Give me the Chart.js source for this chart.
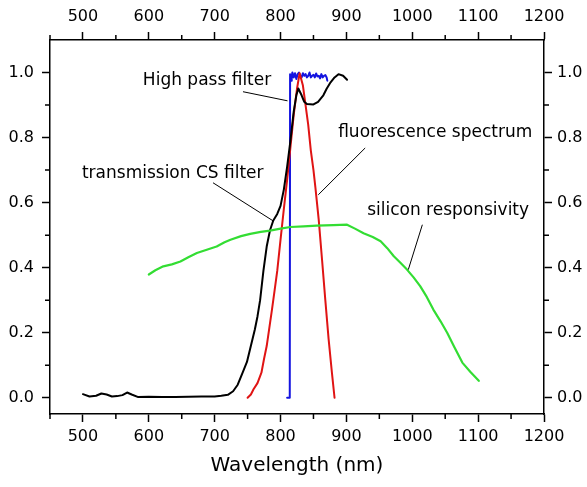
<!DOCTYPE html>
<html><head><meta charset="utf-8">
<script src="https://cdn.jsdelivr.net/npm/chart.js@4/dist/chart.umd.min.js"></script>
<style>html,body{margin:0;padding:0;background:#fff;overflow:hidden}#wrap{position:relative;width:587px;height:487px}</style>
</head><body><div id="wrap"><canvas id="c" width="587" height="487"></canvas></div>
<script>
// ---- data ----
const xTicks = [500, 600, 700, 800, 900, 1000, 1100, 1200];
const xMinorTicks = [450, 550, 650, 750, 850, 950, 1050, 1150];
const yTicks = [0.0, 0.2, 0.4, 0.6, 0.8, 1.0];
const yMinorTicks = [0.1, 0.3, 0.5, 0.7, 0.9];

// transmission CS filter (black)
const csWl = [500,510,520,528,536,544,552,560,567,574,584,600,620,640,660,680,700,710,720,728,735,742,749,755,761,765,769,774,779,784,789,795,800,805,810,815,820,824,827,832,836,840,850,857,865,870,876,882,888,895,901];
const csT  = [0.011,0.004,0.006,0.013,0.010,0.004,0.005,0.008,0.016,0.010,0.002,0.003,0.002,0.002,0.003,0.004,0.004,0.006,0.009,0.020,0.040,0.075,0.110,0.160,0.210,0.250,0.300,0.390,0.465,0.515,0.545,0.565,0.590,0.640,0.710,0.790,0.880,0.930,0.951,0.930,0.910,0.903,0.902,0.910,0.930,0.950,0.970,0.985,0.995,0.990,0.978];

// fluorescence spectrum (red)
const flWl = [750,755,759,765,771,775,779,783,787,791,795,800,805,810,815,820,825,829,834,838,842,846,850,853,858,863,868,873,878,882];
const flI  = [0.000,0.010,0.026,0.045,0.077,0.120,0.159,0.215,0.271,0.330,0.390,0.486,0.580,0.670,0.770,0.870,0.950,0.998,0.960,0.900,0.840,0.760,0.700,0.645,0.547,0.425,0.300,0.180,0.077,0.000];

// high pass filter (blue)
const hpWl = [810,814,814.5,816,817,818,820,822,824,826,828,830,832,834,836,838,840,842,844,846,848,850,852,854,856,858,860,862,864,866,868,870,871];
const hpT  = [0,0,0.995,0.975,0.990,1.000,0.985,0.998,0.980,0.995,1.000,0.990,0.985,0.998,0.990,0.995,0.985,0.990,1.000,0.985,0.990,0.993,0.985,0.997,0.988,0.990,0.982,0.995,0.985,0.990,0.992,0.985,0.975];

// silicon responsivity (green)
const siWl = [600,610,622,635,648,660,673,688,703,715,724,740,754,770,784,800,815,835,855,880,901,913,926,940,952,962,972,982,992,1002,1012,1022,1032,1043,1053,1064,1076,1088,1101];
const siR  = [0.379,0.392,0.404,0.410,0.419,0.432,0.445,0.455,0.465,0.478,0.486,0.497,0.504,0.510,0.514,0.520,0.525,0.527,0.529,0.531,0.532,0.520,0.506,0.494,0.481,0.460,0.435,0.415,0.394,0.370,0.343,0.310,0.271,0.235,0.200,0.155,0.108,0.080,0.052];

// annotation labels (text, anchor in data units, leader line in data units)
const labels = [
  {text:'High pass filter',       x:591, y:0.961, line:[743,0.941,810.6,0.913]},
  {text:'fluorescence spectrum',  x:887.5, y:0.802, line:[928.5,0.768,857.3,0.624]},
  {text:'transmission CS filter', x:498.5, y:0.676, line:[697.5,0.661,789.4,0.543]},
  {text:'silicon responsivity',   x:931.5, y:0.5625, line:[1015.3,0.532,994,0.394]}
];

// ---- chart ----
const FONT = 'DejaVu Sans';
const pts = (xs, ys) => xs.map((v, i) => ({x: v, y: ys[i]}));

const minorTicksPlugin = {
  id: 'minorTicks',
  afterDraw(chart) {
    const ctx = chart.ctx;
    const {x, x2, y, y2} = chart.scales;
    ctx.save();
    ctx.strokeStyle = '#000';
    ctx.lineWidth = 1.5;
    ctx.beginPath();
    xMinorTicks.forEach(v => {
      const p = x.getPixelForValue(v);
      ctx.moveTo(p, x.top); ctx.lineTo(p, x.top + 5);
      const q = x2.getPixelForValue(v);
      ctx.moveTo(q, x2.bottom); ctx.lineTo(q, x2.bottom - 5);
    });
    yMinorTicks.forEach(v => {
      const p = y.getPixelForValue(v);
      ctx.moveTo(y.right, p); ctx.lineTo(y.right - 5, p);
      const q = y2.getPixelForValue(v);
      ctx.moveTo(y2.left, q); ctx.lineTo(y2.left + 5, q);
    });
    ctx.stroke();
    ctx.restore();
  }
};

const labelPlugin = {
  id: 'labels',
  afterDatasetsDraw(chart) {
    const ctx = chart.ctx;
    const {x, y} = chart.scales;
    ctx.save();
    ctx.fillStyle = '#000';
    ctx.strokeStyle = '#000';
    ctx.lineWidth = 1;
    ctx.font = '17px "' + FONT + '"';
    ctx.textBaseline = 'alphabetic';
    ctx.textAlign = 'left';
    labels.forEach(l => {
      ctx.fillText(l.text, x.getPixelForValue(l.x), y.getPixelForValue(l.y));
      ctx.beginPath();
      ctx.moveTo(x.getPixelForValue(l.line[0]), y.getPixelForValue(l.line[1]));
      ctx.lineTo(x.getPixelForValue(l.line[2]), y.getPixelForValue(l.line[3]));
      ctx.stroke();
    });
    ctx.restore();
  }
};

function axis(pos, min, max, ticks, fmt, size, pad, extra) {
  const horiz = pos === 'top' || pos === 'bottom';
  return Object.assign({
    type: 'linear', position: pos, min: min, max: max,
    afterBuildTicks: s => { s.ticks = ticks.map(v => ({value: v})); },
    afterFit: s => { if (horiz) s.height = size; else s.width = size; },
    ticks: {color: '#000', font: {family: FONT, size: 16}, padding: pad,
            autoSkip: false, maxRotation: 0, callback: fmt},
    grid: {drawOnChartArea: false, drawTicks: true, tickLength: 8,
           tickColor: '#000', tickWidth: 1.5},
    border: {display: true, color: '#000', width: 1.5}
  }, extra || {});
}

const ds = (data, color, w) => ({
  data: data, borderColor: color, backgroundColor: color, borderWidth: w,
  showLine: true, pointRadius: 0, tension: 0, fill: false,
  borderJoinStyle: 'round', borderCapStyle: 'round', xAxisID: 'x', yAxisID: 'y'
});

new Chart(document.getElementById('c'), {
  type: 'scatter',
  data: {
    datasets: [
      ds(pts(siWl, siR), '#33dd33', 2.2),
      ds(pts(csWl, csT), '#000000', 2),
      ds(pts(flWl, flI), '#e01414', 2),
      ds(pts(hpWl, hpT), '#1414e0', 2)
    ]
  },
  options: {
    responsive: false, animation: false, devicePixelRatio: 1,
    layout: {padding: 0},
    plugins: {legend: {display: false}, tooltip: {enabled: false}},
    scales: {
      x: axis('bottom', 450, 1200, xTicks, v => String(v), 73, 5, {
        title: {display: true, text: 'Wavelength (nm)', color: '#000',
                font: {family: FONT, size: 20}, padding: {top: 0, bottom: 9}}
      }),
      x2: axis('top', 450, 1200, xTicks, v => String(v), 40, 6),
      y: axis('left', -0.05, 1.1, yTicks, v => v.toFixed(1), 50, 8),
      y2: axis('right', -0.05, 1.1, yTicks, v => v.toFixed(1), 43, 5)
    }
  },
  plugins: [minorTicksPlugin, labelPlugin]
});
</script>
</body></html>
